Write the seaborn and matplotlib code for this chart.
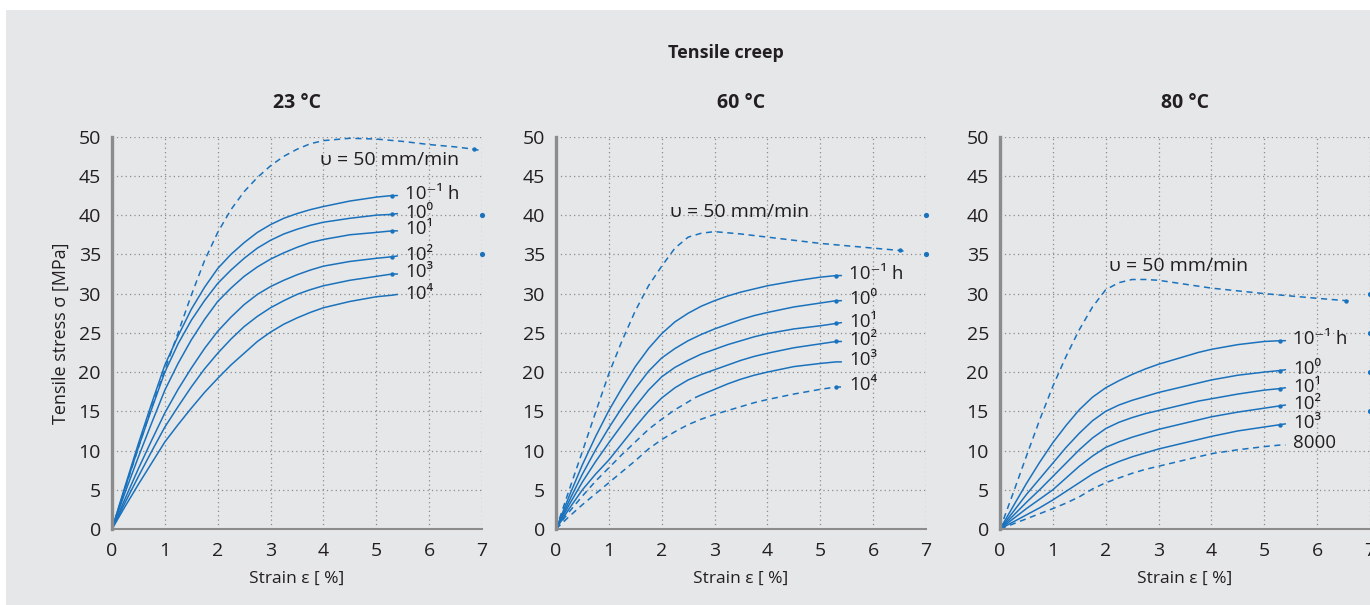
import matplotlib
matplotlib.use("Agg")
import matplotlib.pyplot as plt
from matplotlib.patches import Rectangle
import seaborn as sns

# strain grid [%] shared by the creep curves (last point = short tail past the dot)
STRAIN = [0, 0.25, 0.5, 0.75, 1, 1.25, 1.5, 1.75, 2, 2.25, 2.5, 2.75, 3,
          3.25, 3.5, 3.75, 4, 4.5, 5, 5.3, 5.4]
DOT_STRAIN = 5.3

# ---- 23 C ----
CREEP_LABELS_23 = ["10⁻¹ h", "10⁰", "10¹", "10²", "10³", "10⁴"]
CREEP_23 = [
    [0, 5.5, 10.9, 16.0, 20.9, 24.6, 28.0, 30.8, 33.2, 35.0, 36.5, 37.8, 38.8,
     39.6, 40.2, 40.7, 41.1, 41.8, 42.3, 42.5, 42.5],
    [0, 5.3, 10.4, 15.3, 20.0, 23.6, 26.6, 29.1, 31.3, 33.0, 34.5, 35.8, 36.8,
     37.6, 38.2, 38.7, 39.1, 39.6, 40.0, 40.1, 40.2],
    [0, 4.7, 9.2, 13.5, 17.7, 21.1, 24.1, 26.7, 29.0, 30.7, 32.2, 33.4, 34.4,
     35.2, 35.9, 36.5, 36.9, 37.5, 37.8, 38.0, 38.0],
    [0, 3.9, 7.7, 11.3, 14.8, 17.8, 20.5, 23.0, 25.2, 27.0, 28.6, 29.9, 30.9,
     31.7, 32.4, 33.0, 33.5, 34.1, 34.5, 34.7, 34.8],
    [0, 3.4, 6.7, 9.9, 13.0, 15.6, 18.1, 20.4, 22.4, 24.2, 25.8, 27.1, 28.2,
     29.1, 29.9, 30.5, 31.0, 31.7, 32.2, 32.5, 32.5],
    [0, 2.9, 5.7, 8.4, 11.1, 13.3, 15.4, 17.4, 19.2, 20.9, 22.4, 23.9, 25.1,
     26.1, 26.9, 27.6, 28.2, 29.0, 29.6, 29.8, 29.9],
]
DOTS_23 = [True, True, True, True, True, False]
DASHED_23 = [False] * 6
TENSILE_X_23 = [0, 0.25, 0.5, 0.75, 1, 1.25, 1.5, 1.75, 2, 2.25, 2.5, 2.75, 3,
                3.25, 3.5, 3.75, 4, 4.5, 5, 5.5, 6, 6.5, 6.85, 7.0]
TENSILE_Y_23 = [0, 5.2, 10.4, 15.5, 20.3, 25.0, 29.8, 34.2, 37.8, 40.7, 43.0, 44.8, 46.3,
                47.5, 48.4, 49.1, 49.5, 49.8, 49.7, 49.4, 49.0, 48.7, 48.4, 48.2]
TENSILE_DOT_23 = 6.85
EDGE_DOTS_23 = [40, 35]

# ---- 60 C ----
CREEP_LABELS_60 = ["10⁻¹ h", "10⁰", "10¹", "10²", "10³", "10⁴"]
CREEP_60 = [
    [0, 4.2, 8.2, 11.8, 15.1, 18.0, 20.7, 23.0, 24.9, 26.4, 27.5, 28.4, 29.1,
     29.7, 30.2, 30.6, 31.0, 31.6, 32.1, 32.3, 32.3],
    [0, 3.6, 7.0, 10.1, 12.9, 15.5, 17.9, 20.1, 21.8, 23.0, 24.0, 24.8, 25.5,
     26.1, 26.7, 27.2, 27.6, 28.3, 28.8, 29.1, 29.1],
    [0, 3.1, 6.0, 8.6, 11.0, 13.3, 15.6, 17.7, 19.4, 20.6, 21.5, 22.3, 22.9,
     23.5, 24.0, 24.5, 24.9, 25.5, 25.9, 26.2, 26.3],
    [0, 2.6, 5.0, 7.0, 8.8, 10.9, 13.0, 15.0, 16.7, 18.0, 19.0, 19.7, 20.3,
     20.9, 21.5, 22.0, 22.4, 23.1, 23.6, 23.9, 23.9],
    None,  # 10^3 drawn from its own dashed / solid pieces below
    [0, 1.6, 3.1, 4.5, 5.9, 7.3, 8.7, 10.2, 11.4, 12.4, 13.3, 14.0, 14.6,
     15.1, 15.6, 16.1, 16.5, 17.2, 17.8, 18.1, 18.1],
]
# 10^3 h curve at 60 C: dashed at first, solid after ~2.65 %
C60_E3_DASH_X = [0, 0.25, 0.5, 0.75, 1, 1.25, 1.5, 1.75, 2, 2.25, 2.5, 2.65]
C60_E3_DASH_Y = [0, 2.2, 4.2, 6.1, 7.8, 9.5, 11.1, 12.7, 14.0, 15.2, 16.2, 16.8]
C60_E3_SOLID_X = [2.65, 2.75, 3, 3.25, 3.5, 3.75, 4, 4.5, 5, 5.3, 5.4]
C60_E3_SOLID_Y = [16.8, 17.1, 17.8, 18.5, 19.1, 19.6, 20.0, 20.7, 21.1, 21.3, 21.3]
DOTS_60 = [True, True, True, True, False, True]
DASHED_60 = [False, False, False, False, False, True]
TENSILE_X_60 = [0, 0.25, 0.5, 0.75, 1, 1.25, 1.5, 1.75, 2, 2.25, 2.5, 2.75, 3,
                3.5, 4, 5, 6, 6.5, 6.6]
TENSILE_Y_60 = [0, 5.0, 9.9, 14.9, 19.8, 24.0, 27.8, 31.0, 33.5, 35.8, 37.2, 37.7, 37.9,
                37.6, 37.2, 36.4, 35.8, 35.5, 35.4]
TENSILE_DOT_60 = 6.5
EDGE_DOTS_60 = [40, 35]

# ---- 80 C ----
CREEP_LABELS_80 = ["10⁻¹ h", "10⁰", "10¹", "10²", "10³", "8000"]
CREEP_80 = [
    [0, 2.9, 5.8, 8.5, 11.0, 13.2, 15.2, 16.8, 18.0, 18.9, 19.7, 20.4, 21.0,
     21.5, 22.0, 22.5, 22.9, 23.5, 23.9, 24.0, 24.0],
    [0, 2.2, 4.4, 6.4, 8.4, 10.4, 12.2, 13.8, 15.0, 15.8, 16.4, 16.9, 17.4,
     17.8, 18.2, 18.6, 19.0, 19.6, 20.0, 20.2, 20.3],
    [0, 1.7, 3.4, 5.0, 6.7, 8.4, 10.1, 11.6, 12.8, 13.6, 14.2, 14.7, 15.1,
     15.5, 15.9, 16.3, 16.6, 17.2, 17.7, 17.9, 18.0],
    [0, 1.3, 2.6, 3.8, 5.0, 6.5, 8.0, 9.3, 10.4, 11.1, 11.7, 12.2, 12.7,
     13.1, 13.5, 13.9, 14.3, 14.9, 15.4, 15.7, 15.8],
    [0, 0.9, 1.8, 2.7, 3.7, 4.8, 5.9, 7.0, 7.9, 8.6, 9.2, 9.7, 10.2,
     10.6, 11.0, 11.4, 11.8, 12.5, 13.0, 13.3, 13.4],
    [0, 0.65, 1.3, 1.95, 2.6, 3.3, 4.1, 5.1, 5.9, 6.5, 7.1, 7.6, 8.0,
     8.4, 8.8, 9.2, 9.6, 10.1, 10.5, 10.7, 10.7],
]
DOTS_80 = [True, True, True, True, True, False]
DASHED_80 = [False, False, False, False, False, True]
TENSILE_X_80 = [0, 0.25, 0.5, 0.75, 1, 1.25, 1.5, 1.75, 2, 2.25, 2.5, 2.75, 3,
                3.5, 4, 5, 6, 6.55, 6.65]
TENSILE_Y_80 = [0, 4.6, 9.3, 13.9, 18.2, 22.0, 25.4, 28.3, 30.5, 31.4, 31.8, 31.8, 31.7,
                31.2, 30.7, 30.0, 29.4, 29.1, 29.0]
TENSILE_DOT_80 = 6.55
EDGE_DOTS_80 = [30, 25, 20, 15]

TEMPS = ["23 °C", "60 °C", "80 °C"]

BLUE = "#1a72bd"
GRAY = "#8c8c8c"
BG = "#e6e7e9"
TEXT = "#231f20"
FONT = ["Open Sans", "DejaVu Sans"]
DASH = (4, 3)

W, H = 1370, 605

sns.set_style("white")
plt.rcParams["font.family"] = FONT
plt.rcParams["text.color"] = TEXT
plt.rcParams["axes.labelcolor"] = TEXT
plt.rcParams["xtick.color"] = TEXT
plt.rcParams["ytick.color"] = TEXT

fig = plt.figure(figsize=(W / 100, H / 100), dpi=100, facecolor="white")
fig.patches.append(Rectangle((6 / W, 0), 1, 1 - 10 / H, transform=fig.transFigure,
                             facecolor=BG, edgecolor="none", zorder=-10))


def curve(ax, xs, ys, dashed=False):
    sns.lineplot(x=xs, y=ys, ax=ax, color=BLUE, lw=1.1, estimator=None, sort=False)
    if dashed:
        ax.lines[-1].set_dashes(DASH)


def draw_panel(ax, creep, labels, dots, dashed, tx, ty, tdot, edge_dots, tlabel_xy):
    ax.set_facecolor("none")
    for i, ys in enumerate(creep):
        if ys is None:
            curve(ax, C60_E3_DASH_X, C60_E3_DASH_Y, dashed=True)
            curve(ax, C60_E3_SOLID_X, C60_E3_SOLID_Y)
            end = C60_E3_SOLID_Y[C60_E3_SOLID_X.index(DOT_STRAIN)]
        else:
            curve(ax, STRAIN, ys, dashed=dashed[i])
            end = ys[STRAIN.index(DOT_STRAIN)]
        if dots[i]:
            ax.scatter([DOT_STRAIN], [end], s=10, color=BLUE, zorder=5, linewidths=0)
        ax.text(5.55, end + 0.2, labels[i], fontsize=13.5, va="center", ha="left",
                family=FONT, color=TEXT)

    curve(ax, tx, ty, dashed=True)
    ax.scatter([tdot], [ty[tx.index(tdot)]], s=10, color=BLUE, zorder=5, linewidths=0)
    ax.scatter([7] * len(edge_dots), edge_dots, s=14, color=BLUE, zorder=5,
               linewidths=0, clip_on=False)
    ax.text(tlabel_xy[0], tlabel_xy[1], "υ = 50 mm/min", fontsize=14, ha="center",
            va="center", family=FONT, color=TEXT)

    ax.set_xlim(0, 7)
    ax.set_ylim(0, 50)
    ax.set_xticks(range(0, 8))
    ax.set_yticks(range(0, 55, 5))
    ax.grid(True, color=GRAY, lw=0.9, linestyle=(0, (1, 2.5)))
    ax.set_axisbelow(True)
    for side in ["top", "right"]:
        ax.spines[side].set_visible(False)
    ax.spines["left"].set_color(GRAY)
    ax.spines["left"].set_linewidth(2.4)
    ax.spines["bottom"].set_color(GRAY)
    ax.spines["bottom"].set_linewidth(1.5)
    ax.tick_params(axis="x", length=5, width=1, color=GRAY, pad=4, labelsize=14)
    ax.tick_params(axis="y", length=4, width=1, color=GRAY, pad=4, labelsize=14)
    ax.set_xlabel("Strain ε [ %]", fontsize=12.5, labelpad=8)
    ax.set_ylabel("")


panels = [
    (CREEP_23, CREEP_LABELS_23, DOTS_23, DASHED_23, TENSILE_X_23, TENSILE_Y_23,
     TENSILE_DOT_23, EDGE_DOTS_23, (5.25, 47.0)),
    (CREEP_60, CREEP_LABELS_60, DOTS_60, DASHED_60, TENSILE_X_60, TENSILE_Y_60,
     TENSILE_DOT_60, EDGE_DOTS_60, (3.48, 40.4)),
    (CREEP_80, CREEP_LABELS_80, DOTS_80, DASHED_80, TENSILE_X_80, TENSILE_Y_80,
     TENSILE_DOT_80, EDGE_DOTS_80, (3.38, 33.5)),
]

lefts = [112, 556, 1000]
ax_w = 370
ax_bottom = 529
ax_top = 136.7
for k, (left, p) in enumerate(zip(lefts, panels)):
    ax = fig.add_axes([left / W, 1 - ax_bottom / H, ax_w / W, (ax_bottom - ax_top) / H])
    draw_panel(ax, *p)
    fig.text((left + ax_w / 2) / W, 1 - 103 / H, TEMPS[k], ha="center", va="center",
             fontsize=14, fontweight="bold", family=FONT)
    if k == 0:
        ax.set_ylabel("Tensile stress σ [MPa]", fontsize=13, labelpad=6)

fig.text(726 / W, 1 - 53 / H, "Tensile creep", ha="center", va="center",
         fontsize=13, fontweight="bold", family=FONT)

fig.savefig("out.png", dpi=100, facecolor="white")
